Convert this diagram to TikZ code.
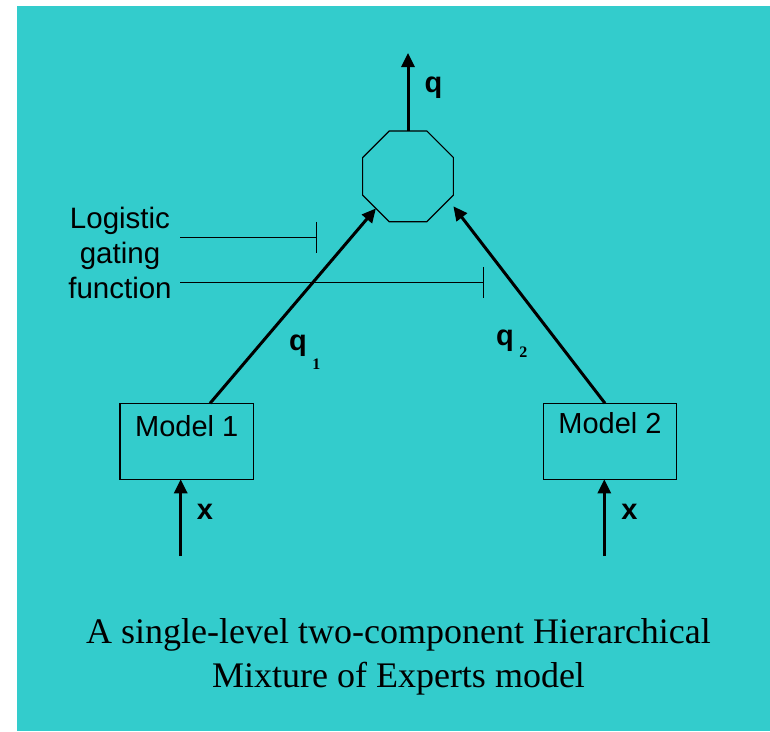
\documentclass[tikz,border=0pt]{standalone}
\usepackage{fontspec}
\setmainfont{Liberation Serif}
\setsansfont{Liberation Sans}
\usetikzlibrary{arrows.meta,shapes.geometric,calc}
\definecolor{panel}{HTML}{33CCCC}
\newcommand\subdigit[1]{{\rmfamily\bfseries\fontsize{16}{18}\selectfont #1}}
\tikzset{
  gate/.style={draw, regular polygon, regular polygon sides=8, minimum size=98.2pt,
    inner sep=0pt, outer sep=0pt, line width=1.2pt},
  modelbox/.style={draw, line width=1.2pt, inner sep=0pt, outer sep=0pt,
    minimum width=133.4pt, font=\sffamily\fontsize{29}{34}\selectfont},
  flow/.style={line width=3pt, -{Triangle[length=14pt,width=13pt]}},
  gateline/.style={line width=1.2pt, -{Bar[width=31pt,line width=1.2pt]}},
  lab/.style={inner sep=0pt, font=\sffamily\bfseries\fontsize{29}{34}\selectfont},
}
\begin{document}
\begin{tikzpicture}[x=1pt,y=-1pt]
  \useasboundingbox (0,0) rectangle (770,731);
  \fill[panel] (17,6) rectangle (770,731);

  % combining gate
  \node[gate] (g) at (408,176.3) {};

  % output
  \coordinate (qout) at (408,53);
  \draw[flow] (g.north) -- (qout);
  \node[lab, anchor=base] (qlab) at (433.5,92) {q};

  % experts
  \node[modelbox, anchor=base, text height=33.4pt, text depth=42.6pt] (m1) at (186.7,436.7) {Model 1};
  \node[modelbox, anchor=base, text height=30pt, text depth=46pt] (m2) at (610,433.3) {Model 2};

  % expert outputs into the gate
  \coordinate (m1top) at ($(m1.north west)!0.675!(m1.north east)$);
  \coordinate (m2top) at ($(m2.north west)!0.4625!(m2.north east)$);
  \coordinate (g2tip) at ($(g.east)+(0,30)$);
  \draw[flow] (m1top) -- (g.south west);
  \draw[flow] (m2top) -- (g2tip);
  \node[lab, anchor=base west] (q1) at (289,350) {q\hspace{5.5pt}\raisebox{-19.5pt}{\subdigit{1}}};
  \node[lab, anchor=base west] (q2) at (496,345) {q\hspace{5.5pt}\raisebox{-12.3pt}{\subdigit{2}}};

  % inputs
  \coordinate (x1) at (180.7,556);
  \coordinate (x2) at (604.3,556);
  \draw[flow] (x1) -- (x1 |- m1.south);
  \draw[flow] (x2) -- (x2 |- m2.south);
  \node[lab, anchor=base] (lx1) at (205,519.3) {x};
  \node[lab, anchor=base] (lx2) at (629.5,519.3) {x};

  % gating function
  \node[inner sep=0pt, anchor=north, align=center,
        font=\sffamily\fontsize{29.5}{35}\selectfont] (glab) at (120,206.7)
        {Logistic\\gating\\function};
  \coordinate (ga1) at (180,237.3);
  \coordinate (gb1) at (316.7,237.3);
  \coordinate (ga2) at (180,282.3);
  \coordinate (gb2) at (484,282.3);
  \draw[gateline] (ga1) -- (gb1);
  \draw[gateline] (ga2) -- (gb2);

  % caption
  \node[inner sep=0pt, anchor=north, align=center,
        font=\rmfamily\fontsize{36}{44}\selectfont] (cap) at (398.5,618.4)
        {A single-level two-component Hierarchical\\Mixture of Experts model};
\end{tikzpicture}
\end{document}
